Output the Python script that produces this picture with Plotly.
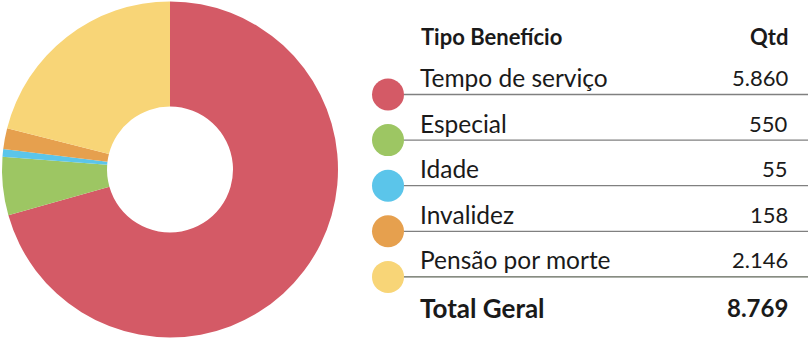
import plotly.graph_objects as go

categories = ["Tempo de serviço", "Especial", "Idade", "Invalidez", "Pensão por morte"]
values = [5860, 550, 55, 158, 2146]
# donut slice shares (%) as drawn in the reference picture
pie_share = [70.6, 5.6, 0.75, 2.0, 21.05]
colors = ["#D45A66", "#9DC663", "#5BC5EA", "#E6A04E", "#F8D577"]
header_labels = ["Tipo Benefício", "Qtd"]
total_label = "Total Geral"

W, H = 808, 339
FONT = "Lato"

def fmt(v):
    return f"{v:,}".replace(",", ".")

fig = go.Figure()

# donut
fig.add_trace(go.Pie(
    labels=categories, values=pie_share, sort=False, direction="clockwise",
    rotation=0, hole=0.375, textinfo="none", hoverinfo="label",
    marker=dict(colors=colors, line=dict(width=0)),
    domain=dict(x=[2 / W, 338 / W], y=[1 - 338 / H, 1 - 1 / H]),
    showlegend=False,
))

# table layout (pixel coordinates on a hidden axis)
row0_line = 94.5
row_step = 45.6
line_y = [row0_line + i * row_step for i in range(len(categories))]

fig.add_trace(go.Scatter(
    x=[388] * len(categories), y=line_y, mode="markers",
    marker=dict(size=32, color=colors, line=dict(width=0)),
    hoverinfo="skip", showlegend=False, xaxis="x", yaxis="y",
))

shapes = []
for i, y in enumerate(line_y):
    shapes.append(dict(type="line", xref="x", yref="y", x0=404, x1=808, y0=y, y1=y,
                       line=dict(color="#5f6658" if i == len(line_y) - 1 else "#808080", width=1.3),
                       layer="below"))

TXT = "#1a1a1a"
ann = []
ann.append(dict(x=419, y=36, text="<b>" + header_labels[0] + "</b>", xanchor="left", yanchor="middle",
                font=dict(family=FONT, size=22, color=TXT), showarrow=False, xref="x", yref="y"))
ann.append(dict(x=790, y=36, text="<b>" + header_labels[1] + "</b>", xanchor="right", yanchor="middle",
                font=dict(family=FONT, size=22, color=TXT), showarrow=False, xref="x", yref="y"))
for i, (c, v) in enumerate(zip(categories, values)):
    y = line_y[i] - 17
    ann.append(dict(x=418, y=y, text=c, xanchor="left", yanchor="middle",
                    font=dict(family=FONT, size=24.5, color=TXT), showarrow=False, xref="x", yref="y"))
    ann.append(dict(x=790, y=y, text=fmt(v), xanchor="right", yanchor="middle",
                    font=dict(family=FONT, size=22, color=TXT), showarrow=False, xref="x", yref="y"))
ty = line_y[-1] + 31
ann.append(dict(x=418, y=ty, text="<b>" + total_label + "</b>", xanchor="left", yanchor="middle",
                font=dict(family=FONT, size=26, color=TXT), showarrow=False, xref="x", yref="y"))
ann.append(dict(x=790, y=ty, text="<b>" + fmt(sum(values)) + "</b>", xanchor="right", yanchor="middle",
                font=dict(family=FONT, size=24, color=TXT), showarrow=False, xref="x", yref="y"))

fig.update_layout(
    width=W, height=H, margin=dict(l=0, r=0, t=0, b=0),
    paper_bgcolor="white", plot_bgcolor="rgba(0,0,0,0)",
    xaxis=dict(range=[0, W], domain=[0, 1], visible=False, fixedrange=True),
    yaxis=dict(range=[H, 0], domain=[0, 1], visible=False, fixedrange=True),
    shapes=shapes, annotations=ann, showlegend=False,
)

fig.write_html("out.html")
